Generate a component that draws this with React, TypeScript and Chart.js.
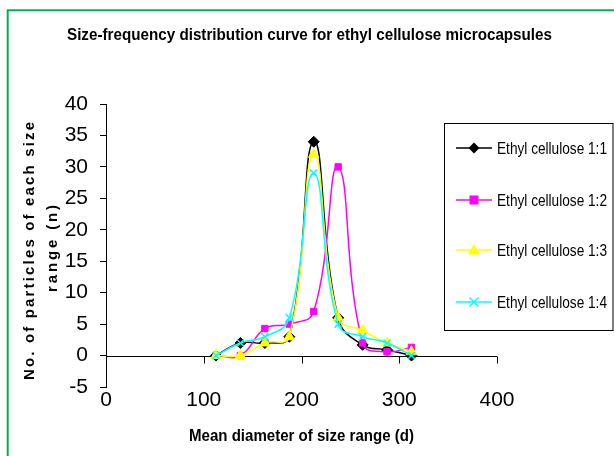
import React, { useEffect, useRef } from 'react';
import { Chart, registerables } from 'chart.js';

Chart.register(...registerables);

// ---- data ----
const diameters = [112.5, 137.5, 162.5, 187.5, 212.5, 237.5, 262.5, 287.5, 312.5];
const ec11 = [0, 2, 2, 3, 34, 6, 1.7, 0.9, 0];
const ec12 = [0, 0, 4.3, 5, 7, 30, 2, 0.6, 1.3];
const ec13 = [0, 0, 2, 3, 32, 6, 4, 2, 0.6];
const ec14 = [0, 2, 3, 6, 29, 5, 3, 2, 0];
const seriesLabels = ['Ethyl cellulose 1:1', 'Ethyl cellulose 1:2', 'Ethyl cellulose 1:3', 'Ethyl cellulose 1:4'];
const seriesColors = ['#000000', '#ff00ff', '#ffff00', '#00ffff'];
const seriesMarkers = ['rectRot', 'rect', 'triangle', 'crossRot'];
const xTicks = [0, 100, 200, 300, 400];
const yMin = -5;
const yMax = 40;
const yStep = 5;
const chartTitle = 'Size-frequency distribution curve for ethyl cellulose microcapsules';
const xTitle = 'Mean diameter of size range (d)';
const yTitleLines = ['No. of particles of each size', 'range (n)'];

const SANS = '"Liberation Sans", Arial, sans-serif';

function drawMarker(ctx: CanvasRenderingContext2D, type: string, x: number, y: number, color: string) {
  ctx.save();
  ctx.fillStyle = color;
  ctx.strokeStyle = color;
  ctx.lineWidth = 1.5;
  ctx.beginPath();
  if (type === 'rectRot') {
    const r = 5.5;
    ctx.moveTo(x, y - r); ctx.lineTo(x + r, y); ctx.lineTo(x, y + r); ctx.lineTo(x - r, y); ctx.closePath(); ctx.fill();
  } else if (type === 'rect') {
    const r = 4.5;
    ctx.rect(x - r, y - r, 2 * r, 2 * r); ctx.fill();
  } else if (type === 'triangle') {
    const r = 6;
    ctx.moveTo(x, y - r); ctx.lineTo(x + r, y + r * 0.75); ctx.lineTo(x - r, y + r * 0.75); ctx.closePath(); ctx.fill();
  } else {
    const r = 4.5;
    ctx.moveTo(x - r, y - r); ctx.lineTo(x + r, y + r); ctx.moveTo(x + r, y - r); ctx.lineTo(x - r, y + r); ctx.stroke();
  }
  ctx.restore();
}

function fitText(ctx: CanvasRenderingContext2D, text: string, font: string, x: number, baseline: number, width: number, align: CanvasTextAlign = 'center') {
  ctx.save();
  ctx.font = font;
  ctx.fillStyle = '#000';
  ctx.textAlign = align;
  ctx.textBaseline = 'alphabetic';
  const w = ctx.measureText(text).width;
  const s = width / w;
  ctx.translate(x, baseline);
  ctx.scale(s, 1);
  ctx.fillText(text, 0, 0);
  ctx.restore();
}

function spacedRotated(ctx: CanvasRenderingContext2D, text: string, font: string, cx: number, cy: number, length: number) {
  ctx.save();
  ctx.font = font;
  ctx.fillStyle = '#000';
  (ctx as any).letterSpacing = '0px';
  const w = ctx.measureText(text).width;
  const n = text.length;
  const sp = (length - w) / (n - 1);
  (ctx as any).letterSpacing = sp + 'px';
  ctx.translate(cx, cy);
  ctx.rotate(-Math.PI / 2);
  ctx.textAlign = 'left';
  ctx.textBaseline = 'middle';
  ctx.fillText(text, -length / 2, 0);
  ctx.restore();
}

const decorPlugin = {
  id: 'decor',
  beforeDatasetsDraw(chart: any) {
    const ctx: CanvasRenderingContext2D = chart.ctx;
    const xs = chart.scales.x;
    const ys = chart.scales.y;
    const y0 = Math.round(ys.getPixelForValue(0)) + 0.5;
    ctx.save();
    ctx.strokeStyle = '#000';
    ctx.lineWidth = 1;
    ctx.beginPath();
    ctx.moveTo(chart.chartArea.left, y0);
    ctx.lineTo(xs.getPixelForValue(xTicks[xTicks.length - 1]), y0);
    xTicks.forEach((t) => {
      if (t === 0) return;
      const px = Math.round(xs.getPixelForValue(t)) + 0.5;
      ctx.moveTo(px, y0);
      ctx.lineTo(px, y0 + 7);
    });
    ctx.stroke();
    ctx.restore();
  },
  afterDraw(chart: any) {
    const ctx: CanvasRenderingContext2D = chart.ctx;
    // green frame
    ctx.save();
    ctx.strokeStyle = '#00b050';
    ctx.lineWidth = 2;
    ctx.strokeRect(7.7, 10.3, 640, 480);
    ctx.restore();

    fitText(ctx, chartTitle, 'bold 17px ' + SANS, 309.5, 40, 485);
    fitText(ctx, xTitle, 'bold 17px ' + SANS, 301.5, 441, 225);
    spacedRotated(ctx, yTitleLines[0], 'bold 15px ' + SANS, 29.5, 251, 258);
    spacedRotated(ctx, yTitleLines[1], 'bold 15px ' + SANS, 53, 248.5, 87);

    // legend box
    ctx.save();
    ctx.strokeStyle = '#000';
    ctx.lineWidth = 1;
    ctx.strokeRect(444.5, 123.5, 168.5, 207);
    const rows = [148, 200, 250, 302];
    chart.data.datasets.forEach((ds: any, i: number) => {
      const y = rows[i];
      ctx.strokeStyle = ds.borderColor;
      ctx.lineWidth = 1.5;
      ctx.beginPath();
      ctx.moveTo(456, y);
      ctx.lineTo(492, y);
      ctx.stroke();
      drawMarker(ctx, seriesMarkers[i], 474, y, ds.borderColor);
      fitText(ctx, ds.label, '16px ' + SANS, 497, y + 6, 110, 'left');
    });
    ctx.restore();
  },
};

export default function App() {
  const ref = useRef<HTMLCanvasElement | null>(null);
  useEffect(() => {
    document.body.style.margin = '0';
    const canvas = ref.current;
    if (!canvas) return;
    const all = [ec11, ec12, ec13, ec14];
    const datasets = all.map((vals, i) => ({
      label: seriesLabels[i],
      data: diameters.map((d, j) => ({ x: d, y: vals[j] })),
      borderColor: seriesColors[i],
      backgroundColor: seriesColors[i],
      borderWidth: 1.5,
      pointStyle: seriesMarkers[i] as any,
      pointRadius: i === 0 ? 5.5 : i === 1 ? 4.5 : i === 2 ? 6 : 5,
      pointBorderWidth: i === 3 ? 1.5 : 1,
      tension: 0.45,
      order: all.length - i,
      clip: false as any,
    }));
    const chart = new Chart(canvas, {
      type: 'line',
      data: { datasets },
      options: {
        animation: false,
        responsive: false,
        devicePixelRatio: 1,
        layout: { padding: { top: 104, right: 117, left: 0, bottom: 0 } },
        plugins: { legend: { display: false }, title: { display: false }, tooltip: { enabled: false } },
        scales: {
          x: {
            type: 'linear',
            min: 0,
            max: 400,
            position: 'bottom',
            afterFit: (s: any) => { s.height = 69; },
            ticks: { stepSize: 100, color: '#000', font: { family: SANS, size: 21 }, padding: 1, maxRotation: 0, autoSkip: false },
            grid: { display: false, drawTicks: false },
            border: { display: false },
          },
          y: {
            min: yMin,
            max: yMax,
            afterFit: (s: any) => { s.width = 106; },
            ticks: { stepSize: yStep, color: '#000', font: { family: SANS, size: 21 }, padding: 12, autoSkip: false },
            grid: { drawOnChartArea: false, color: '#000', tickLength: 6 },
            border: { display: true, color: '#000', width: 1 },
          },
        },
      },
      plugins: [decorPlugin],
    });
    return () => chart.destroy();
  }, []);
  return (
    <div style={{ width: 614, height: 456, background: '#fff' }}>
      <canvas ref={ref} width={614} height={456} style={{ display: 'block', width: 614, height: 456 }} />
    </div>
  );
}
